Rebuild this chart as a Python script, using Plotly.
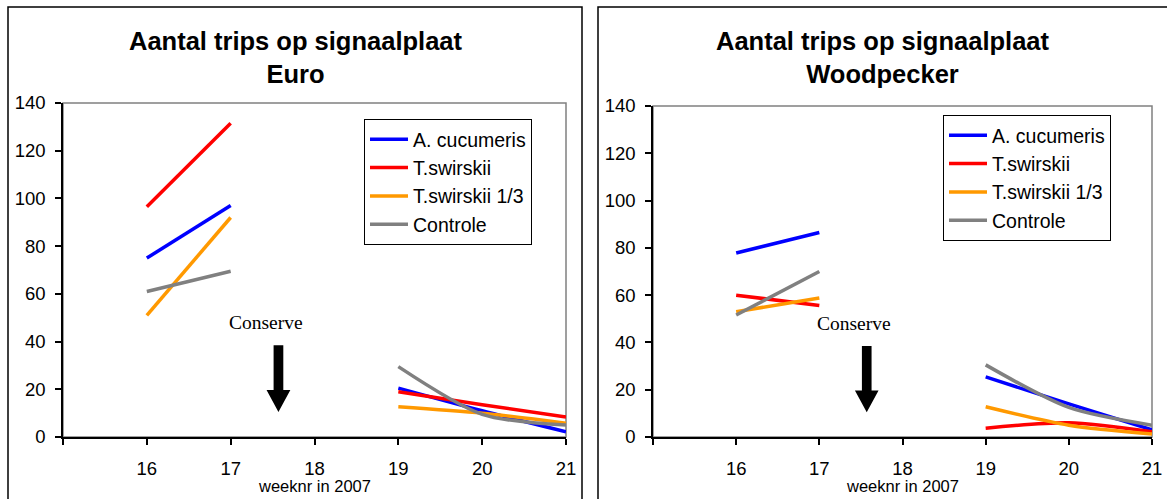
import plotly.graph_objects as go

W, H = 1167, 499

weeks = [16, 17, 18, 19, 20, 21]
series_names = ["A. cucumeris", "T.swirskii", "T.swirskii 1/3", "Controle"]
series_colors = ["#0000FF", "#FF0000", "#FF9900", "#808080"]

# Euro signal plate
euro_cucumeris = [75, 97, None, 20.5, 11, 2.2]
euro_swirskii = [96.5, 131.5, None, 19, 13.5, 8.4]
euro_swirskii_third = [51, 92, None, 12.7, 10, 5.8]
euro_controle = [61, 69.5, None, 29.5, 9.5, 5]

# Woodpecker signal plate
wood_cucumeris = [77.8, 86.5, None, 25.4, 14, 3]
wood_swirskii = [60, 55.6, None, 3.7, 6, 2.2]
wood_swirskii_third = [53, 58.8, None, 12.8, 5, 1.3]
wood_controle = [51.6, 70, None, 30.5, 12.5, 5]

x_tickvals = [15, 16, 17, 18, 19, 20, 21]
x_ticktext = ["", "16", "17", "18", "19", "20", "21"]
y_tickvals = [0, 20, 40, 60, 80, 100, 120, 140]

panels = [
    dict(title="Aantal trips op signaalplaat<br>Euro",
         data=[euro_cucumeris, euro_swirskii, euro_swirskii_third, euro_controle]),
    dict(title="Aantal trips op signaalplaat<br>Woodpecker",
         data=[wood_cucumeris, wood_swirskii, wood_swirskii_third, wood_controle]),
]


def px(x):
    return x / W


def py(y):
    return 1 - y / H


# plot-area pixel boxes (left, top, right, bottom)
areas = [(63, 103, 566, 437), (653, 106, 1152, 437)]
frames = [(8, 7, 582, 520), (598, 7, 1190, 520)]
legend_pos = [(364, 119), (943, 115)]
title_x = [295, 882]

fig = go.Figure()
font_main = "Liberation Sans, Arial, sans-serif"

for i, panel in enumerate(panels):
    xa = "x" if i == 0 else "x2"
    ya = "y" if i == 0 else "y2"
    lg = "legend" if i == 0 else "legend2"
    for name, color, vals in zip(series_names, series_colors, panel["data"]):
        fig.add_trace(go.Scatter(
            x=weeks, y=vals, name=name, mode="lines",
            line=dict(color=color, width=3.5, shape="spline", smoothing=0.8),
            connectgaps=False, xaxis=xa, yaxis=ya, legend=lg,
            legendgroup=f"{i}-{name}",
        ))

    l, t, r, b = areas[i]
    axis_common = dict(showgrid=False, zeroline=False, showline=True,
                       linecolor="black", linewidth=1.5, ticks="outside",
                       ticklen=6, tickwidth=1.5, tickcolor="black",
                       automargin=False,
                       tickfont=dict(family=font_main, size=18.5, color="black"))
    fig.layout[("xaxis" if i == 0 else "xaxis2")] = dict(
        domain=[px(l), px(r)], range=[15, 21], tickvals=x_tickvals,
        ticktext=x_ticktext, anchor=ya, ticklabelstandoff=8, **axis_common)
    fig.layout[("yaxis" if i == 0 else "yaxis2")] = dict(
        domain=[py(b), py(t)], range=[0, 140], tickvals=y_tickvals,
        anchor=xa, ticklabelstandoff=6, **axis_common)

    # grey plot-area frame (top and right edges)
    fig.add_shape(type="rect", xref="paper", yref="paper",
                  x0=px(l), x1=px(r), y0=py(b), y1=py(t),
                  line=dict(color="#808080", width=1.5), layer="below")
    # outer chart frame
    fl, ft, fr, fb = frames[i]
    fig.add_shape(type="rect", xref="paper", yref="paper",
                  x0=px(fl), x1=px(fr), y0=py(fb), y1=py(ft),
                  line=dict(color="black", width=1.5), layer="below")

    fig.add_annotation(text=f"<b>{panel['title']}</b>", xref="paper", yref="paper",
                       x=px(title_x[i]), y=py(25), xanchor="center", yanchor="top",
                       showarrow=False, align="center",
                       font=dict(family=font_main, size=25.5, color="black"))
    fig.add_annotation(text="weeknr in 2007", xref="paper", yref="paper",
                       x=px((l + r) / 2), y=py(486), xanchor="center", yanchor="middle",
                       showarrow=False,
                       font=dict(family=font_main, size=16.5, color="black"))
    # Conserve marker with a bold down arrow
    fig.add_annotation(text="Conserve", xref=xa, yref=ya, x=17.42, y=48.2,
                       showarrow=False, xanchor="center", yanchor="middle",
                       font=dict(family="Liberation Serif, Times New Roman, serif",
                                 size=19.5, color="black"))
    ax = 17.57
    fig.add_shape(type="path", xref=xa, yref=ya,
                  path=(f"M {ax-0.058},38.5 L {ax+0.058},38.5 L {ax+0.058},19.7 "
                        f"L {ax+0.142},19.7 L {ax},10.5 L {ax-0.142},19.7 L {ax-0.058},19.7 Z"),
                  fillcolor="black", line=dict(color="black", width=0))

    lx, ly = legend_pos[i]
    fig.layout[lg] = dict(
        x=px(lx), y=py(ly), xanchor="left", yanchor="top",
        bgcolor="white", bordercolor="black", borderwidth=1,
        font=dict(family=font_main, size=19.5, color="black"),
        tracegroupgap=0, traceorder="grouped", itemwidth=38,
    )

fig.update_layout(
    width=W, height=H, margin=dict(l=0, r=0, t=0, b=0, autoexpand=False),
    paper_bgcolor="white", plot_bgcolor="white", showlegend=True,
)

fig.write_html("out.html")
